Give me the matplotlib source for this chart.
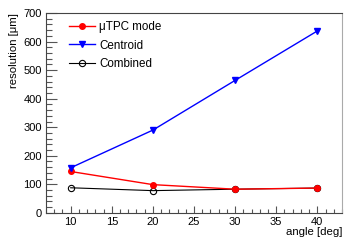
import numpy as np
import matplotlib.pyplot as plt
from matplotlib.ticker import MultipleLocator

plt.rcParams['font.family'] = ['Liberation Sans', 'DejaVu Sans']

angles = [10, 20, 30, 40]
utpc = [145, 99, 83, 87]
centroid = [158, 290, 464, 637]
combined = [88, 78, 83, 87]

fig = plt.figure(figsize=(3.54, 2.45), dpi=100)
ax = fig.add_axes([0.130, 0.131, 0.836, 0.816])

ax.plot(angles, utpc, color='red', marker='o', markersize=4, lw=1, label='\u03bcTPC mode', zorder=3)
ax.plot(angles, centroid, color='blue', marker='v', markersize=5, lw=1, label='Centroid', zorder=3)
ax.plot(angles, combined, color='black', marker='o', markersize=4.5, mfc='none', mew=0.8, lw=0.8,
        label='Combined', zorder=2)

ax.set_xlim(7, 43)
ax.set_ylim(0, 700)
ax.xaxis.set_major_locator(MultipleLocator(5))
ax.xaxis.set_minor_locator(MultipleLocator(1))
ax.yaxis.set_major_locator(MultipleLocator(100))
ax.yaxis.set_minor_locator(MultipleLocator(20))
ax.tick_params(which='both', direction='in', labelsize=8, color='#555555', pad=3)
ax.tick_params(which='major', axis='y', length=8, width=0.8)
ax.tick_params(which='minor', axis='y', length=4, width=0.8)
ax.tick_params(which='major', axis='x', length=5, width=0.8)
ax.tick_params(which='minor', axis='x', length=3, width=0.8)
for s in ax.spines.values():
    s.set_color('#444444')
    s.set_linewidth(0.8)
ax.spines['right'].set_color('#aaaaaa')

ax.set_ylabel('resolution [\u03bcm]', loc='top', fontsize=8.2, labelpad=3)
ax.set_xlabel('angle [deg]', loc='right', fontsize=8.2, labelpad=0)

ax.legend(loc='upper left', bbox_to_anchor=(0.05, 1.0), frameon=False, fontsize=8.4,
          handlelength=2.2, handletextpad=0.4, labelspacing=0.55, borderaxespad=0.3)

fig.savefig('out.png', dpi=100)
